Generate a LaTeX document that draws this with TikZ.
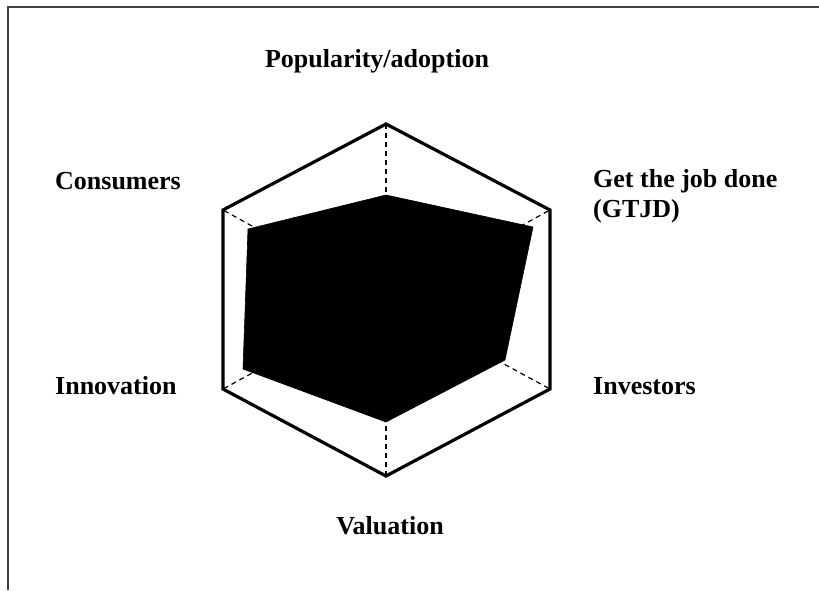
\documentclass[tikz,border=0pt]{standalone}
\usepackage{fontspec}
\setmainfont{Liberation Serif}
\usetikzlibrary{calc,positioning}

\tikzset{
  axislabel/.style={font=\fontsize{26}{30}\selectfont\bfseries, inner sep=0pt},
  spoke/.style={line width=1.2pt, dash pattern=on 5pt off 4pt},
  hexline/.style={line width=3.2pt, line join=miter},
  score/.style={fill=black, draw=black, line width=0.6pt}
}

\begin{document}
\begin{tikzpicture}[x=1pt,y=-1pt]
  \useasboundingbox (0,0) rectangle (819,590);
  % frame
  \draw[black!75, line width=2pt] (8,590) -- (8,7) -- (819,7);

  % hexagon
  \coordinate (c) at (386,300);
  \coordinate (hT) at (386,124);
  \coordinate (hTR) at (550,210);
  \coordinate (hBR) at (550,389);
  \coordinate (hB) at (386,476);
  \coordinate (hBL) at (223,389);
  \coordinate (hTL) at (223,210);
  \foreach \v in {hT,hTR,hBR,hB,hBL,hTL}
    \draw[spoke] (c) -- (\v);
  \draw[hexline] (hT) -- (hTR) -- (hBR) -- (hB) -- (hBL) -- (hTL) -- cycle;

  % scores
  \coordinate (sT) at (386,195);
  \coordinate (sTR) at (533,227);
  \coordinate (sBR) at (505,360);
  \coordinate (sB) at (386,422);
  \coordinate (sBL) at (243,369);
  \coordinate (sTL) at (248,229);
  \fill[score] (sT) -- (sTR) -- (sBR) -- (sB) -- (sBL) -- (sTL) -- cycle;

  % labels
  \node[axislabel, anchor=base] (pop) at (377,67) {Popularity/adoption};
  \node[axislabel, anchor=base west] (gtjd) at (593,187) {Get the job done};
  \node[axislabel, anchor=base west] (gtjdb) at ([yshift=-30pt]gtjd.base west) {(GTJD)};
  \node[axislabel, anchor=base west] (inv) at (593,394) {Investors};
  \node[axislabel, anchor=base] (val) at (390,534) {Valuation};
  \node[axislabel, anchor=base west] (innov) at (55,394) {Innovation};
  \node[axislabel, anchor=base west] (cons) at (55,189) {Consumers};
\end{tikzpicture}
\end{document}
